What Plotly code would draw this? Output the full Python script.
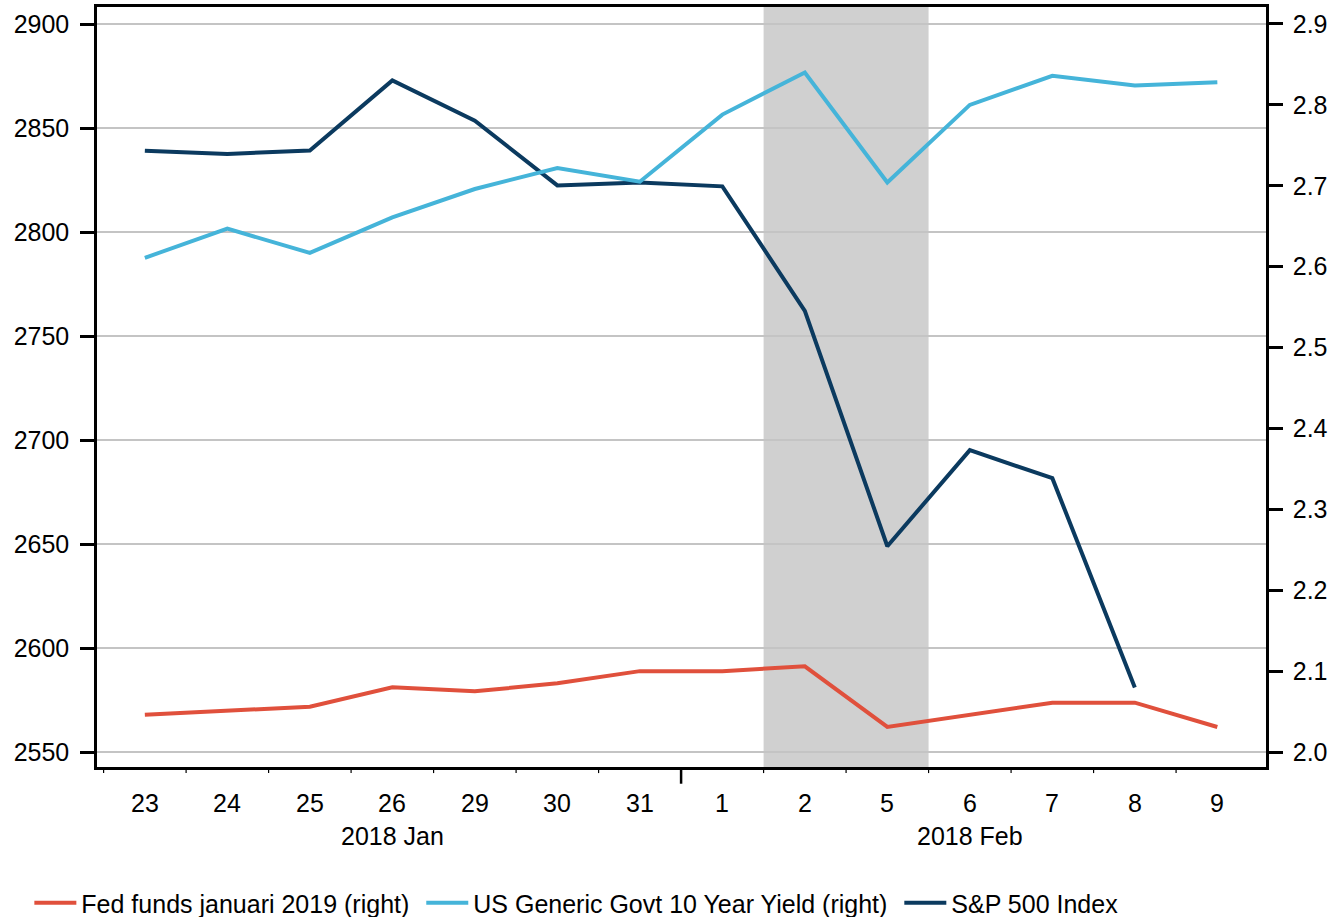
import plotly.graph_objects as go

days = ["23", "24", "25", "26", "29", "30", "31", "1", "2", "5", "6", "7", "8", "9"]
sp500 = [2839.13, 2837.54, 2839.25, 2872.87, 2853.53, 2822.43, 2823.81, 2821.98,
         2762.13, 2648.94, 2695.14, 2681.66, 2581.00, None]
us10y = [2.611, 2.647, 2.617, 2.661, 2.696, 2.722, 2.705, 2.788, 2.840, 2.704,
         2.800, 2.836, 2.824, 2.828]
fedfunds = [2.046, 2.051, 2.056, 2.080, 2.075, 2.085, 2.100, 2.100, 2.106, 2.031,
            2.046, 2.061, 2.061, 2.031]
months = ["2018 Jan", "2018 Feb"]
left_ticks = [2550, 2600, 2650, 2700, 2750, 2800, 2850, 2900]
right_ticks = [2.0, 2.1, 2.2, 2.3, 2.4, 2.5, 2.6, 2.7, 2.8, 2.9]

x = list(range(len(days)))
FONT = "Liberation Sans, Arial, sans-serif"
FS = 25

fig = go.Figure()
fig.add_trace(go.Scatter(x=x, y=fedfunds, mode="lines", name="Fed funds januari 2019 (right)\u00a0",
                         line=dict(color="#e0503c", width=4), yaxis="y2"))
fig.add_trace(go.Scatter(x=x, y=us10y, mode="lines", name="US Generic Govt 10 Year Yield (right)\u00a0",
                         line=dict(color="#45b4d9", width=4), yaxis="y2"))
fig.add_trace(go.Scatter(x=x, y=sp500, mode="lines", name="S&P 500 Index",
                         line=dict(color="#0b3a5f", width=4), yaxis="y"))

shapes = [dict(type="rect", xref="x", yref="paper", x0=7.5, x1=9.5, y0=0, y1=1,
               fillcolor="#d0d0d0", line=dict(width=0), layer="below")]
for i in range(len(days)):
    b = i - 0.5
    long = (b == 6.5)
    shapes.append(dict(type="line", xref="x", yref="paper", x0=b, x1=b, y0=0,
                       y1=-0.022 if long else -0.008,
                       line=dict(color="black", width=2.5 if long else 1.2)))

annotations = []
for i, d in enumerate(days):
    annotations.append(dict(x=i, y=-0.047, xref="x", yref="paper", text=d, showarrow=False,
                            yanchor="middle", font=dict(size=FS, color="black", family=FONT)))
annotations.append(dict(x=3, y=-0.091, xref="x", yref="paper", text=months[0], showarrow=False,
                        yanchor="middle", font=dict(size=FS, color="black", family=FONT)))
annotations.append(dict(x=10, y=-0.091, xref="x", yref="paper", text=months[1], showarrow=False,
                        yanchor="middle", font=dict(size=FS, color="black", family=FONT)))

fig.update_layout(
    width=1334, height=917,
    margin=dict(l=97, r=68, t=7, b=150),
    paper_bgcolor="white", plot_bgcolor="white",
    font=dict(family=FONT, size=FS, color="black"),
    showlegend=True,
    legend=dict(orientation="h", xref="container", yref="container", x=0.022, xanchor="left",
                y=1 - 903 / 917, yanchor="middle",
                font=dict(size=FS, color="black", family=FONT), itemwidth=42,
                tracegroupgap=0),
    xaxis=dict(range=[-0.58, 13.59], showgrid=False, showticklabels=False, ticks="",
               showline=True, linecolor="black", linewidth=2.5, mirror=True, zeroline=False,
               automargin=False),
    yaxis=dict(range=[2542.8, 2908.2], tickvals=left_ticks, ticks="outside", ticklen=14,
               tickwidth=2.5, tickcolor="black", showline=True, linecolor="black", linewidth=2.5,
               mirror=True, showgrid=True, gridcolor="#c4c4c4", gridwidth=2, zeroline=False,
               tickfont=dict(size=FS), automargin=False, ticklabelstandoff=6),
    yaxis2=dict(range=[1.9815, 2.921], tickvals=right_ticks, tickformat=".1f", overlaying="y",
                side="right", ticks="outside", ticklen=14, tickwidth=2.5, tickcolor="black",
                showline=True, linecolor="black", linewidth=2.5, showgrid=False, zeroline=False,
                tickfont=dict(size=FS), automargin=False, ticklabelstandoff=5),
    shapes=shapes,
    annotations=annotations,
)

fig.write_html("out.html", config={"displayModeBar": False},
               post_script="document.body.style.margin='0';")
